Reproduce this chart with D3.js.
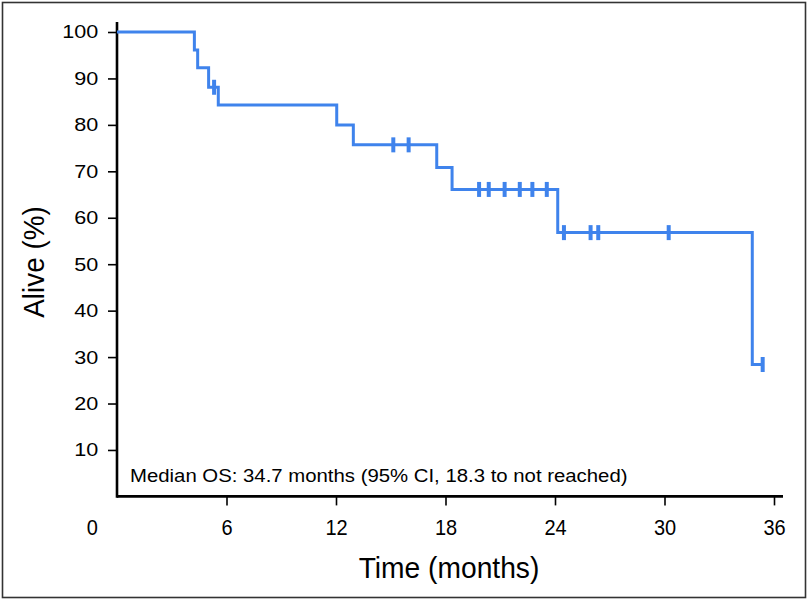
<!DOCTYPE html>
<html>
<head>
<meta charset="utf-8">
<script src="https://cdn.jsdelivr.net/npm/d3@7/dist/d3.min.js"></script>
<style>
  html, body { margin: 0; padding: 0; background: #fff; }
  svg { display: block; }
</style>
</head>
<body>
<svg id="chart" width="809" height="601"></svg>
<script>
// ---- Data ----
const stepTimes    = [0, 4.24, 4.42, 5.02, 5.55, 12.04, 12.95, 17.52, 18.36, 24.15, 34.81, 35.38];
const stepSurvival = [100, 96.1, 92.3, 88.1, 84.3, 80.0, 75.7, 70.8, 66.1, 56.8, 28.4, 28.4];
const censorTimes    = [5.32, 15.14, 15.98, 19.84, 20.37, 21.24, 22.07, 22.76, 23.55, 24.49, 25.95, 26.37, 30.23, 35.38];
const censorSurvival = [88.1, 75.7, 75.7, 66.1, 66.1, 66.1, 66.1, 66.1, 66.1, 56.8, 56.8, 56.8, 56.8, 28.4];
const xTickValues = [6, 12, 18, 24, 30, 36];
const yTickValues = [10, 20, 30, 40, 50, 60, 70, 80, 90, 100];
const originLabel = "0";
const xTitle = "Time (months)";
const yTitle = "Alive (%)";
const annotation = "Median OS: 34.7 months (95% CI, 18.3 to not reached)";

// ---- Layout ----
const svg = d3.select("#chart");
const blue = "#3f83ec";
const font = "'Liberation Sans', Arial, Helvetica, sans-serif";

const x = d3.scaleLinear().domain([0, 36]).range([117, 774]);
const y = d3.scaleLinear().domain([0, 100]).range([496.4, 32]);

// outer border
svg.append("rect")
  .attr("x", 2.5).attr("y", 2.5).attr("width", 803).attr("height", 595)
  .attr("fill", "none").attr("stroke", "#333").attr("stroke-width", 1.6);

// X axis
const xStretch = 0.93;
const xAxis = d3.axisBottom(x).tickValues(xTickValues).tickSize(9).tickPadding(14.2).tickFormat(d3.format("d"));
const gx = svg.append("g").attr("transform", `translate(0,${y(0)})`).call(xAxis);
gx.select(".domain").remove();
gx.append("line").attr("x1", x(0)).attr("x2", 783).attr("y1", 0).attr("y2", 0)
  .attr("stroke", "#000").attr("stroke-width", 2.6);
gx.selectAll(".tick line").attr("stroke", "#000").attr("stroke-width", 1.6);
gx.selectAll(".tick text").attr("font-family", font).attr("font-size", 21.5).attr("fill", "#000")
  .attr("transform", `scale(${xStretch},1)`);

// origin label
svg.append("text").attr("x", 92.3 / xStretch).attr("y", 535).attr("text-anchor", "middle")
  .attr("transform", `scale(${xStretch},1)`)
  .attr("font-family", font).attr("font-size", 21.5).attr("fill", "#000").text(originLabel);

// Y axis
const yAxis = d3.axisLeft(y).tickValues(yTickValues).tickSize(9).tickPadding(10).tickFormat(d3.format("d"));
const gy = svg.append("g").attr("transform", `translate(${x(0)},0)`).call(yAxis);
gy.select(".domain").remove();
gy.append("line").attr("x1", 0).attr("x2", 0).attr("y1", 22).attr("y2", y(0) + 1.3)
  .attr("stroke", "#000").attr("stroke-width", 2.6);
gy.selectAll(".tick line").attr("stroke", "#000").attr("stroke-width", 1.6);
const yStretch = 1.2;
gy.selectAll(".tick text").attr("font-family", font).attr("font-size", 18).attr("fill", "#000")
  .attr("dy", "0.33em")
  .attr("x", -18.7 / yStretch)
  .attr("transform", `scale(${yStretch},1)`);

// Axis titles
svg.append("text").attr("transform", "translate(449,578) scale(0.94,1)").attr("text-anchor", "middle")
  .attr("font-family", font).attr("font-size", 30).attr("fill", "#000").text(xTitle);
svg.append("text").attr("transform", "translate(44,262) rotate(-90) scale(0.93,1)").attr("text-anchor", "middle")
  .attr("font-family", font).attr("font-size", 30).attr("fill", "#000").text(yTitle);

// annotation
const annStretch = 1.1;
svg.append("text").attr("x", 130 / annStretch).attr("y", 482)
  .attr("transform", `scale(${annStretch},1)`)
  .attr("font-family", font).attr("font-size", 18.5)
  .attr("fill", "#000").text(annotation);

// KM curve
const stepData = stepTimes.map((t, i) => ({ t, s: stepSurvival[i] }));
const line = d3.line().x(d => x(d.t)).y(d => y(d.s)).curve(d3.curveStepAfter);
svg.append("path").datum(stepData).attr("d", line)
  .attr("fill", "none").attr("stroke", blue).attr("stroke-width", 3).attr("stroke-linejoin", "miter");

// censor marks
const censorData = censorTimes.map((t, i) => ({ t, s: censorSurvival[i] }));
svg.append("g").selectAll("line").data(censorData).join("line")
  .attr("x1", d => x(d.t)).attr("x2", d => x(d.t))
  .attr("y1", d => y(d.s) - 7.5).attr("y2", d => y(d.s) + 7.5)
  .attr("stroke", blue).attr("stroke-width", 4);
</script>
</body>
</html>
